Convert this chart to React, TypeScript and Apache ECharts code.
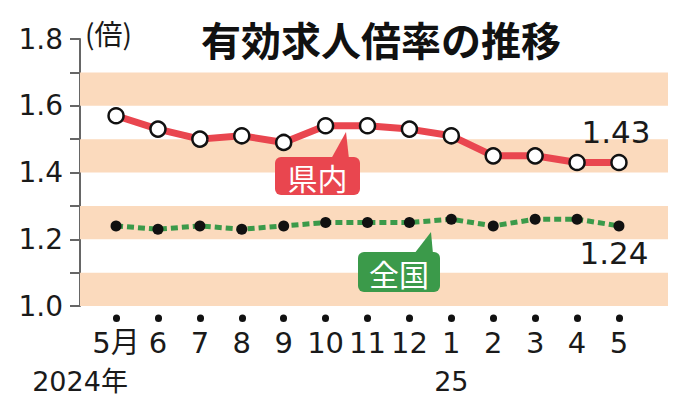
import React, { useEffect, useRef } from "react";
import * as echarts from "echarts";

// Months on the horizontal axis (May 2024 – May 2025)
const months = ["5月", "6", "7", "8", "9", "10", "11", "12", "1", "2", "3", "4", "5"];
// Year markers under the month labels
const yearIndex = [0, 8];
const yearText = ["2024年", "25"];
// Job-openings-to-applicants ratio
const prefValues = [1.57, 1.53, 1.5, 1.51, 1.49, 1.54, 1.54, 1.53, 1.51, 1.45, 1.45, 1.43, 1.43];
const nationalValues = [1.24, 1.23, 1.24, 1.23, 1.24, 1.25, 1.25, 1.25, 1.26, 1.24, 1.26, 1.26, 1.24];
// Shaded horizontal bands
const bandRanges = [
  [1.0, 1.1],
  [1.2, 1.3],
  [1.4, 1.5],
  [1.6, 1.7],
];

const FONT = "'Noto Sans CJK JP', 'Noto Sans', sans-serif";
const NUM_FONT = "'DejaVu Sans', 'Noto Sans CJK JP', sans-serif";
const RED = "#e9464f";
const GREEN = "#3b9a4a";
const BAND = "#fbdabd";
const INK = "#1a1a1a";

export default function App() {
  const ref = useRef<HTMLDivElement>(null);

  useEffect(() => {
    document.body.style.margin = "0";
    if (!ref.current) return;
    const chart = echarts.init(ref.current, null, { renderer: "svg" });
    const last = months.length - 1;
    const xMin = -0.86;
    const xMax = 13.17;
    const monthIdx = months.map((_, i) => i);

    const endLabel = (pos: string, offset: number[]) => ({
      show: true,
      position: pos,
      distance: 6,
      offset,
      formatter: (p: any) => p.value[1].toFixed(2),
      fontSize: 31,
      color: INK,
      fontFamily: NUM_FONT,
    });

    const prefData = prefValues.map((v, i) => ({
      value: [i, v],
      label: i === last ? endLabel("top", [-3, 0]) : { show: false },
    }));
    const nationalData = nationalValues.map((v, i) => ({
      value: [i, v],
      label: i === last ? endLabel("bottom", [-5, 0]) : { show: false },
    }));

    const plainX = {
      type: "value",
      min: xMin,
      max: xMax,
      axisLine: { show: false },
      axisTick: { show: false },
      splitLine: { show: false },
    };

    const callout = (
      color: string,
      text: string,
      box: { x: number; y: number; width: number; height: number },
      pointer: number[][]
    ) => [
      { type: "polygon", z: 100, shape: { points: pointer }, style: { fill: color } },
      { type: "rect", z: 100, shape: { ...box, r: 6 }, style: { fill: color } },
      {
        type: "text",
        z: 101,
        x: box.x + box.width / 2,
        y: box.y + box.height / 2 + 1,
        style: {
          text,
          fill: "#fff",
          fontSize: 30,
          fontFamily: FONT,
          align: "center",
          verticalAlign: "middle",
        },
      },
    ];

    chart.setOption({
      animation: false,
      backgroundColor: "#ffffff",
      title: {
        text: "有効求人倍率の推移",
        left: 196,
        top: 14,
        textStyle: { fontSize: 40, fontWeight: "bold", color: "#111", fontFamily: FONT },
      },
      grid: { left: 80, right: 16, top: 39, bottom: 94 },
      xAxis: [
        {
          // month labels
          ...plainX,
          axisLabel: {
            customValues: monthIdx,
            margin: 22,
            fontSize: 29,
            lineHeight: 30,
            color: INK,
            fontFamily: NUM_FONT,
            formatter: (v: number) => months[Math.round(v)],
          },
        },
        {
          // round tick marks below the plot
          ...plainX,
          position: "bottom",
          offset: 12,
          axisTick: {
            show: true,
            customValues: monthIdx,
            inside: false,
            length: 0.5,
            lineStyle: { color: "#111", width: 7, cap: "round" },
          },
          axisLabel: { show: false },
        },
        {
          // year markers
          ...plainX,
          position: "bottom",
          axisLabel: {
            customValues: yearIndex,
            margin: 61,
            formatter: (v: number) => {
              const k = yearIndex.indexOf(Math.round(v));
              return k === 0 ? `{a|${yearText[k]}}` : `{b|${yearText[k]}}`;
            },
            rich: {
              a: {
                fontSize: 27,
                lineHeight: 28,
                color: INK,
                fontFamily: NUM_FONT,
                padding: [0, 72, 0, 0],
              },
              b: { fontSize: 27, lineHeight: 28, color: INK, fontFamily: NUM_FONT },
            },
          },
        },
      ],
      yAxis: {
        type: "value",
        min: 1.0,
        max: 1.8,
        interval: 0.1,
        axisLine: { show: true, onZero: false, lineStyle: { color: "#666", width: 2 } },
        axisTick: { show: true, length: 10, lineStyle: { color: "#666", width: 2 } },
        splitLine: { show: false },
        axisLabel: {
          margin: 17,
          fontSize: 28,
          color: INK,
          fontFamily: NUM_FONT,
          formatter: (v: number) => (Math.round(v * 10) % 2 === 0 ? v.toFixed(1) : ""),
        },
      },
      series: [
        {
          name: "県内",
          type: "line",
          data: prefData,
          z: 4,
          symbol: "circle",
          symbolSize: 15,
          lineStyle: { color: RED, width: 7 },
          itemStyle: { color: "#fff", borderColor: "#111", borderWidth: 2.5 },
          markArea: {
            silent: true,
            z: 1,
            itemStyle: { color: BAND },
            data: bandRanges.map(([a, b]) => [{ yAxis: a }, { yAxis: b }]),
          },
        },
        {
          name: "全国",
          type: "line",
          data: nationalData,
          z: 3,
          symbol: "circle",
          symbolSize: 11,
          lineStyle: { color: GREEN, width: 5, type: [7, 4] },
          itemStyle: { color: "#111", borderWidth: 0 },
        },
      ],
      graphic: [
        {
          type: "text",
          z: 100,
          x: 85,
          y: 33,
          style: {
            text: "(倍)",
            fontSize: 28,
            fill: INK,
            fontFamily: FONT,
            align: "left",
            verticalAlign: "middle",
          },
        },
        ...callout(RED, "県内", { x: 275, y: 157, width: 85, height: 38 }, [
          [331, 159],
          [346, 132],
          [349, 159],
        ]),
        ...callout(GREEN, "全国", { x: 358, y: 252, width: 82, height: 40 }, [
          [414, 254],
          [431, 232],
          [433, 254],
        ]),
      ],
    });

    return () => chart.dispose();
  }, []);

  return <div ref={ref} style={{ width: 684, height: 400 }} />;
}
